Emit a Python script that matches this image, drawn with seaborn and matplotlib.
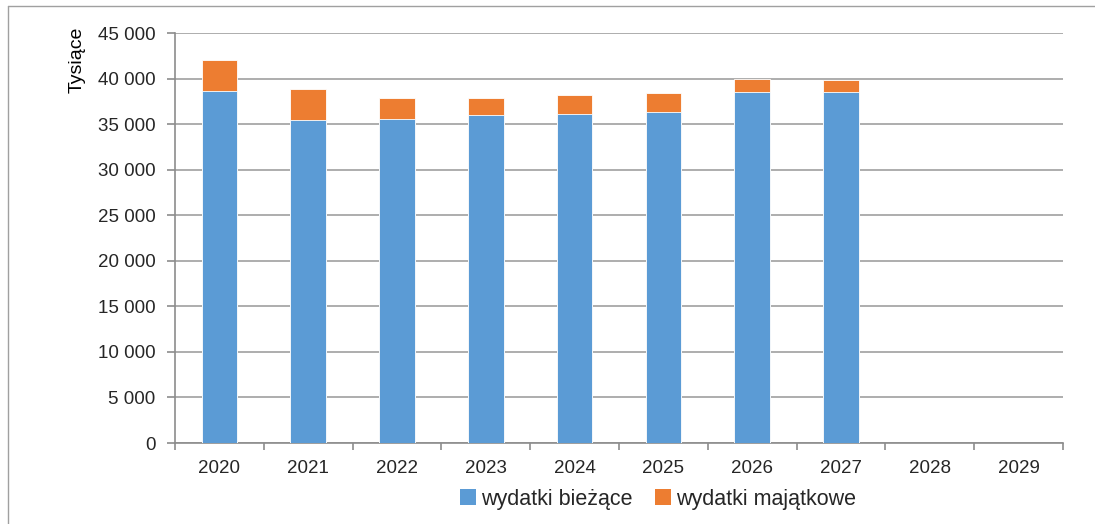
import matplotlib
matplotlib.use("Agg")
import matplotlib.pyplot as plt
import matplotlib.ticker as mticker
from matplotlib.lines import Line2D
from matplotlib.patches import Patch
import numpy as np
import pandas as pd
import seaborn as sns

years = ["2020", "2021", "2022", "2023", "2024", "2025", "2026", "2027", "2028", "2029"]
biezace = [38600, 35400, 35600, 36000, 36100, 36300, 38500, 38500, 0, 0]
majatkowe = [3400, 3500, 2300, 1900, 2100, 2100, 1500, 1300, 0, 0]
y_ticks = [0, 5000, 10000, 15000, 20000, 25000, 30000, 35000, 40000, 45000]
series_names = ["wydatki bieżące", "wydatki majątkowe"]
ylabel = "Tysiące"

blue = "#5B9BD5"
orange = "#ED7D31"

sns.set_theme(style="white")
plt.rcParams["font.family"] = ["Liberation Sans", "DejaVu Sans"]

df = pd.DataFrame({
    "rok": years,
    "biezace": biezace,
    "total": np.array(biezace) + np.array(majatkowe),
})

fig = plt.figure(figsize=(10.95, 5.24), dpi=100)
ax = fig.add_axes([175 / 1095, 1 - 443 / 524, (1063 - 175) / 1095, (443 - 33) / 524])

sns.barplot(data=df, x="rok", y="total", order=years, color=orange, width=0.4,
            saturation=1, ax=ax, edgecolor="white", linewidth=0.6, zorder=3)
sns.barplot(data=df, x="rok", y="biezace", order=years, color=blue, width=0.4,
            saturation=1, ax=ax, edgecolor="white", linewidth=0.6, zorder=3)

ax.set_xlim(-0.5, len(years) - 0.5)
ax.set_ylim(0, 45000)
ax.set_yticks(y_ticks)
ax.yaxis.set_major_formatter(mticker.FuncFormatter(lambda v, p: f"{int(v):,}".replace(",", " ")))
ax.grid(axis="y", color="#a0a0a0", linewidth=1.2, zorder=0)
ax.set_axisbelow(True)

for s in ["top", "right"]:
    ax.spines[s].set_visible(False)
for s in ["left", "bottom"]:
    ax.spines[s].set_color("#8c8c8c")
    ax.spines[s].set_linewidth(1.2)

ax.tick_params(axis="y", which="major", direction="out", length=6, width=1.2,
               color="#8c8c8c", labelsize=13.5, pad=8, left=True)
ax.tick_params(axis="x", which="major", length=0, labelsize=13.5, pad=12)
ax.set_xticks(range(len(years)))
ax.set_xticklabels(years)
ax.set_xticks(np.arange(-0.5, len(years)), minor=True)
ax.tick_params(axis="x", which="minor", direction="out", length=5, width=1.2,
               color="#8c8c8c", bottom=True)
ax.set_xlabel("")
ax.set_ylabel("")

fig.text(77 / 1095, 1 - 27 / 524, ylabel, rotation=90, ha="center", va="top",
         fontsize=14, color="black")

handles = [Patch(facecolor=blue, edgecolor="none"), Patch(facecolor=orange, edgecolor="none")]
fig.legend(handles, series_names, loc="center", bbox_to_anchor=(658 / 1095, 1 - 499 / 524),
           ncol=2, frameon=False, fontsize=15.5, handlelength=0.75, handleheight=0.75,
           handletextpad=0.25, columnspacing=1.0, borderaxespad=0)

# outer frame lines (left and top)
fig.add_artist(Line2D([8 / 1095, 8 / 1095], [0, 1 - 6 / 524], transform=fig.transFigure,
                      color="#a0a0a0", linewidth=1))
fig.add_artist(Line2D([8 / 1095, 1], [1 - 6 / 524, 1 - 6 / 524], transform=fig.transFigure,
                      color="#a0a0a0", linewidth=1))

fig.savefig("out.png", dpi=100, facecolor="white")
